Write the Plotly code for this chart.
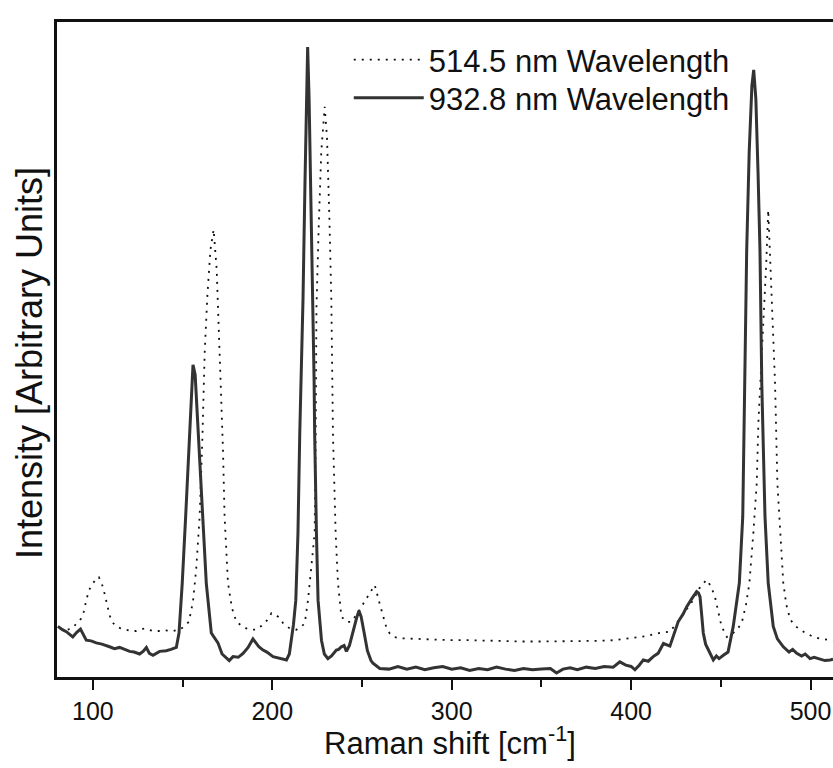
import plotly.graph_objects as go

# 932.8 nm excitation (solid)
solid_x = [80.5, 83, 85.2, 88.8, 91, 93.1, 96.3, 99, 101.9, 105, 109.3, 112, 114.9, 118, 120.5, 123, 126, 128,
           129.8, 131.5, 133.5, 137.2, 140.9, 143.5, 146.5, 148, 149.8, 151.7, 153.5, 154.8, 155.8, 157, 158.2,
           159.5, 161.3, 163.2, 166, 169.7, 172, 174.4, 176, 178.1, 181, 183.7, 186.5, 189.2, 191, 192.5, 194.8,
           197, 200.4, 203, 205.5, 207.9, 209.5, 210.7, 211.8, 213.1, 214.3, 215.3, 216.3, 217.1, 218.2, 219.2,
           219.7, 220.5, 221.6, 222.7, 223.3, 223.6, 224.1, 224.6, 225.5, 227.4, 229, 231, 233, 235.7, 237,
           238.5, 240, 241.3, 243, 245, 247, 248.3, 249.5, 251, 253, 255, 256.1, 259.9, 265, 270, 275, 280,
           285, 290, 295, 300, 305, 310, 315, 320, 325, 330, 335, 340, 345, 350, 355, 358.4, 362, 366, 370,
           375, 380, 385, 390, 393.7, 397, 400, 402.1, 404.5, 406.8, 409.5, 412.3, 415, 418, 421.6, 424, 426.2,
           429, 431, 434, 436.5, 437.5, 438.4, 439.3, 440.2, 441.5, 443, 445.8, 447.5, 449, 451.4, 454, 456.9,
           458.5, 460.3, 462.2, 463.4, 464.4, 465.8, 467.3, 468.3, 469.5, 470.7, 471.8, 472.8, 474.6, 476.4,
           479.2, 481.5, 484.8, 488, 490, 492.3, 495, 497, 499.7, 502, 505, 508, 510.9, 512.5]
solid_y = [7.7, 7.2, 6.9, 6.1, 6.8, 7.3, 5.6, 5.5, 5.2, 5.0, 4.6, 4.3, 4.5, 4.2, 3.9, 3.8, 3.5, 3.9,
           4.5, 3.6, 3.3, 3.9, 4.0, 4.2, 4.5, 6.7, 14.3, 24.4, 34.6, 42, 47.5, 46, 40,
           34.6, 24.4, 14.3, 6.7, 5.2, 3.5, 2.9, 2.5, 3.1, 3.0, 3.6, 4.5, 5.8, 5.2, 4.6, 4.1,
           3.8, 3.1, 2.9, 2.7, 2.6, 3.5, 5.6, 8, 11.7, 21.9, 37.1, 48, 57.4, 75, 90,
           95.9, 88, 72, 57.4, 45, 37.1, 28, 21.9, 11.7, 5.6, 3.5, 2.8, 3.2, 4.1, 4.2,
           4.6, 4.8, 3.9, 4.8, 7, 9, 10.1, 9.2, 7, 4, 2.5, 2.1, 1.3, 1.2, 1.6, 1.2, 1.5,
           1.1, 1.4, 1.6, 1.2, 1.4, 1.0, 1.3, 1.1, 1.5, 1.2, 1.0, 1.3, 1.1, 1.2, 1.3, 0.6, 1.2, 1.4, 1.1,
           1.5, 1.3, 1.6, 1.5, 2.3, 1.8, 1.6, 1.1, 1.8, 2.6, 2.4, 3.1, 3.6, 5.1, 4.7, 6.5, 8.4,
           9.6, 10.7, 12, 13, 12.8, 12.2, 9.5, 6.7, 5, 4.2, 2.6, 3.2, 2.8, 3.3, 3.8, 7.7,
           11, 14.3, 24.4, 44.7, 65, 80, 90, 92.4, 88, 77, 65, 44.7, 24.4, 14.3,
           7.7, 5.8, 4.6, 3.8, 4.2, 3.6, 3.2, 3.5, 2.8, 3.0, 2.7, 2.5, 2.6, 2.7]

# 514.5 nm excitation (dotted)
dot_x = [86, 88.8, 91, 93.5, 95, 96.3, 98, 100, 101.8, 103.3, 105, 106.5, 108, 109.3, 111, 113, 115.5, 118.6,
         121, 124, 126.5, 128.8, 131, 133.5, 137, 140, 144.6, 148, 150.5, 153.5, 155.8, 157.6, 159.5, 161,
         162.3, 163.8, 165.5, 167.3, 169, 170.7, 172.5, 173.4, 175.3, 177.5, 180, 183, 185.5, 188, 191.1, 194,
         197, 199.5, 201, 203.2, 206, 209.7, 213.4, 216, 218.1, 219.9, 221.8, 223.6, 224.2, 224.6, 225.8,
         227.3, 229.2, 230.5, 231.8, 232.9, 233.8, 235.3, 236.6, 238.5, 241.3, 244.1, 247, 250, 253, 257.1,
         259.5, 261.7, 263.5, 265.5, 268, 271, 280, 290, 300, 310, 320, 330, 340, 350, 360, 370, 380, 390,
         399.3, 408, 416, 421.6, 425.4, 430, 434.6, 438, 442, 444.5, 446.7, 448.5, 450.4, 453.3, 456.9, 459.5,
         461.6, 464, 465.9, 468.1, 470, 470.9, 472.5, 474, 475.3, 476.4, 477.4, 479, 480.2, 481.5, 483, 484.8,
         486.5, 488.6, 491, 494.1, 498, 501.6, 506, 510.9, 512.5]
dot_y = [7.2, 7.5, 8.2, 8.9, 10, 11.7, 13.3, 14.3, 15.0, 15.2, 14.2, 12.7, 10.8, 9.4, 8.3, 7.7, 7.4, 7.2,
         7.0, 7.0, 7.2, 7.4, 7.2, 7.0, 7.0, 7.1, 7.0, 7.2, 7.6, 8.4, 11.5, 16.5, 24.4, 36,
         49.3, 58, 65, 68.1, 62, 49.3, 34.6, 24.4, 14.3, 10.5, 8.4, 7.8, 7.4, 7.2, 7.2, 7.8,
         8.6, 9.7, 9.4, 9.2, 8.2, 7.4, 7.2, 7.6, 8.2, 11.7, 16.8, 21.9, 37.1, 56.1, 68,
         80, 86.8, 82, 70, 57.4, 37.1, 21.9, 14.3, 9.2, 8.4, 8.4, 9.5, 10.8, 12.3, 14,
         11.5, 9.2, 7.6, 6.6, 6.1, 5.9, 5.8, 5.7, 5.6, 5.6, 5.5, 5.5, 5.4, 5.4, 5.4, 5.5, 5.5, 5.6,
         5.9, 6.2, 6.7, 6.9, 8.2, 9.9, 11.7, 13.5, 14.8, 13.8, 12.2, 10.0, 7.7, 6.1, 6.7, 7.4,
         8.2, 11, 14.3, 21.9, 29.5, 38.6, 47, 55, 63, 71.1, 63.9, 54, 44.7, 29.5, 21.9, 14.3,
         11, 8.8, 7.9, 7.2, 6.6, 6.1, 5.8, 5.6, 5.6]

x_ticks = [100, 200, 300, 400, 500]
x_minor = [150, 250, 350, 450]
x_range = [80, 512.5]
y_range = [0, 99.7]

FONT = "Liberation Sans, Arial, sans-serif"
INK = "#111111"

fig = go.Figure()
fig.add_trace(go.Scatter(x=dot_x, y=dot_y, mode="lines", name="514.5 nm Wavelength", legend="legend",
                         line=dict(color=INK, width=1.8, dash="2px,6px")))
fig.add_trace(go.Scatter(x=solid_x, y=solid_y, mode="lines", name="932.8 nm Wavelength", legend="legend2",
                         line=dict(color="#333333", width=3)))

leg_common = dict(x=0.376, xanchor="left", yanchor="middle", bgcolor="rgba(0,0,0,0)",
                  font=dict(size=31, family=FONT, color=INK), itemwidth=70)

fig.update_layout(
    width=833, height=768,
    margin=dict(l=57, r=0, t=22, b=91),
    paper_bgcolor="white", plot_bgcolor="white",
    font=dict(family=FONT, color=INK),
    showlegend=True,
    legend=dict(y=(677 - 60) / 655, **leg_common),
    legend2=dict(y=(677 - 98) / 655, **leg_common),
    xaxis=dict(range=x_range, tickvals=x_ticks, ticks="outside", ticklen=10, tickwidth=2,
               tickcolor=INK, tickfont=dict(size=25, family=FONT, color=INK),
               showline=True, linewidth=3, linecolor=INK, mirror=True,
               showgrid=False, zeroline=False,
               minor=dict(tickvals=x_minor, ticks="outside", ticklen=7, tickwidth=2, tickcolor=INK)),
    yaxis=dict(range=y_range, showticklabels=False, ticks="", showline=True, linewidth=3,
               linecolor=INK, mirror=False, showgrid=False, zeroline=False),
    annotations=[
        dict(text="Raman shift [cm<sup>-1</sup>]", xref="paper", yref="paper",
             x=(450 - 57) / 776, y=-(741 - 677) / 655, xanchor="center", yanchor="middle",
             showarrow=False, font=dict(size=31, family=FONT, color=INK)),
        dict(text="Intensity [Arbitrary Units]", xref="paper", yref="paper",
             x=(29 - 57) / 776, y=(677 - 363) / 655, xanchor="center", yanchor="middle",
             textangle=-90, showarrow=False, font=dict(size=36, family=FONT, color=INK)),
    ],
)

fig.write_html("out.html")
